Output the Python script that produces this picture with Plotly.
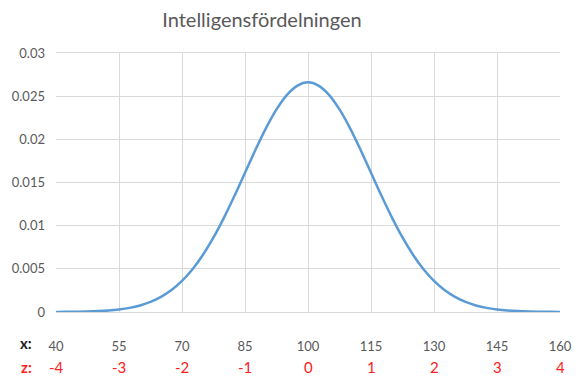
import plotly.graph_objects as go

# IQ values (x) and density
iq = [40, 42.5, 45, 47.5, 50, 52.5, 55, 57.5, 60, 62.5, 65, 67.5, 70, 72.5, 75, 77.5,
      80, 82.5, 85, 87.5, 90, 92.5, 95, 97.5, 100,
      102.5, 105, 107.5, 110, 112.5, 115, 117.5, 120, 122.5, 125, 127.5, 130, 132.5,
      135, 137.5, 140, 142.5, 145, 147.5, 150, 152.5, 155, 157.5, 160]
density = [0.000009, 0.000017, 0.000032, 0.000058, 0.000103, 0.000175, 0.000295,
           0.000477, 0.00076, 0.00117, 0.00175, 0.00254, 0.0036, 0.00495, 0.00663,
           0.00863, 0.01093, 0.01346, 0.01613, 0.01879, 0.0213, 0.02347, 0.02516,
           0.02623, 0.0266,
           0.02623, 0.02516, 0.02347, 0.0213, 0.01879, 0.01613, 0.01346, 0.01093,
           0.00863, 0.00663, 0.00495, 0.0036, 0.00254, 0.00175, 0.00117, 0.00076,
           0.000477, 0.000295, 0.000175, 0.000103, 0.000058, 0.000032, 0.000017,
           0.000009]

x_ticks = [40, 55, 70, 85, 100, 115, 130, 145, 160]
z_labels = ["-4", "-3", "-2", "-1", "0", "1", "2", "3", "4"]
y_ticks = [0, 0.005, 0.01, 0.015, 0.02, 0.025, 0.03]
y_labels = ["0", "0.005", "0.01", "0.015", "0.02", "0.025", "0.03"]

FONT = "Lato, Carlito, Calibri, sans-serif"
GRAY = "#595959"
RED = "#FF2020"
W, H = 584, 383
ML, MR, MT, MB = 52, 21, 53, 71

fig = go.Figure()
fig.add_trace(go.Scatter(x=iq, y=density, mode="lines",
                         line=dict(color="#5B9BD5", width=2.5, shape="spline", smoothing=1.0),
                         hoverinfo="skip", showlegend=False))

for xv, zl in zip(x_ticks, z_labels):
    fig.add_annotation(x=xv, y=0, xref="x", yref="paper", yshift=-55,
                       text=zl, showarrow=False,
                       font=dict(family=FONT, size=15, color=RED),
                       xanchor="center", yanchor="middle")


def px_to_paper(px, py):
    return (px - ML) / (W - ML - MR), ((H - py) - MB) / (H - MT - MB)


for label, py, col in [("<b>x:</b>", 343, "#1a1a1a"), ("<b>z:</b>", 367, RED)]:
    ax, ay = px_to_paper(22, py)
    fig.add_annotation(x=ax, y=ay, xref="paper", yref="paper", text=label,
                       showarrow=False, xanchor="center", yanchor="middle",
                       font=dict(family=FONT, size=15, color=col))

fig.update_layout(
    width=W, height=H,
    margin=dict(l=ML, r=MR, t=MT, b=MB),
    paper_bgcolor="white", plot_bgcolor="white",
    title=dict(text="Intelligensfördelningen", x=262 / W, xref="container", xanchor="center",
               y=1 - 20 / H, yref="container", yanchor="middle",
               font=dict(family=FONT, size=20, color=GRAY)),
    xaxis=dict(range=[40, 160], tickvals=x_ticks, ticktext=[str(v) for v in x_ticks],
               showgrid=True, gridcolor="#D9D9D9", gridwidth=1,
               showline=True, linecolor="#D9D9D9", linewidth=1, mirror=True,
               zeroline=False, ticks="", ticklabelstandoff=22,
               tickfont=dict(family=FONT, size=13, color=GRAY), fixedrange=True),
    yaxis=dict(range=[0, 0.03], tickvals=y_ticks, ticktext=y_labels,
               showgrid=True, gridcolor="#D9D9D9", gridwidth=1,
               showline=False, zeroline=False, ticks="", ticklabelstandoff=10,
               tickfont=dict(family=FONT, size=13, color=GRAY), fixedrange=True),
)

fig.write_html("out.html", config={"displayModeBar": False},
               post_script="document.body.style.margin='0';document.body.style.overflow='hidden';")
